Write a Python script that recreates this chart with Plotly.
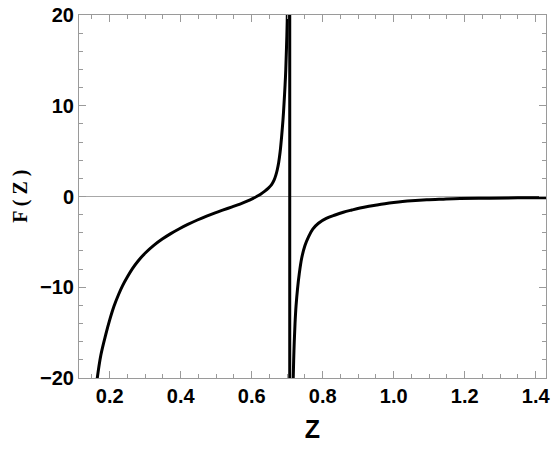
import plotly.graph_objects as go

# Left branch (Z < pole)
z_left = [0.162, 0.165, 0.175, 0.189, 0.200, 0.212, 0.225, 0.236, 0.250, 0.264,
          0.280, 0.301, 0.325, 0.348, 0.372, 0.395, 0.420, 0.447, 0.473, 0.497,
          0.520, 0.545, 0.567, 0.587, 0.604, 0.615, 0.625, 0.637, 0.647, 0.656,
          0.663, 0.668, 0.672, 0.676, 0.680, 0.684, 0.688, 0.691, 0.694, 0.696,
          0.698, 0.700, 0.7005]
f_left = [-21.0, -20.0, -17.5, -15.2, -13.6, -12.1, -10.8, -9.85, -8.85, -7.95,
          -7.1, -6.2, -5.36, -4.69, -4.09, -3.58, -3.08, -2.59, -2.16, -1.80,
          -1.48, -1.14, -0.83, -0.52, -0.21, 0.02, 0.26, 0.60, 0.93, 1.31,
          1.8, 2.35, 2.95, 3.75, 4.9, 6.5, 8.4, 10.2, 12.3, 14.0,
          16.4, 19.3, 21.0]

# Jump across the pole (Z ~ 0.707)
z_pole = [0.7071, 0.7071]
f_pole = [20.0, -20.0]

# Right branch (Z > pole)
z_right = [0.7165, 0.717, 0.719, 0.722, 0.725, 0.729, 0.734, 0.741, 0.750, 0.760,
           0.772, 0.788, 0.810, 0.835, 0.858, 0.882, 0.905, 0.930, 0.953, 0.975,
           1.000, 1.025, 1.050, 1.093, 1.140, 1.187, 1.270, 1.350, 1.430]
f_right = [-21.0, -20.0, -17.0, -14.0, -12.0, -10.2, -8.5, -6.75, -5.4, -4.45,
           -3.6, -2.95, -2.42, -2.04, -1.74, -1.49, -1.27, -1.08, -0.93, -0.80,
           -0.67, -0.56, -0.47, -0.36, -0.29, -0.23, -0.18, -0.15, -0.13]

x_ticks = [0.2, 0.4, 0.6, 0.8, 1.0, 1.2, 1.4]
y_ticks = [-20, -10, 0, 10, 20]
y_tick_text = ["\u221220", "\u221210", "0", "10", "20"]

line_style = dict(color="black", width=3)

fig = go.Figure()
fig.add_trace(go.Scatter(x=z_left, y=f_left, mode="lines",
                         line=dict(**line_style, shape="spline", smoothing=1.0),
                         showlegend=False))
fig.add_trace(go.Scatter(x=z_pole, y=f_pole, mode="lines",
                         line=line_style, showlegend=False))
fig.add_trace(go.Scatter(x=z_right, y=f_right, mode="lines",
                         line=dict(**line_style, shape="spline", smoothing=1.0),
                         showlegend=False))

sans = "Liberation Sans, Arial, sans-serif"
tick_font = dict(family=sans, size=20, color="black")
axis_common = dict(
    showgrid=False, showline=True, linecolor="#9a9a9a", linewidth=1, mirror="allticks",
    ticks="inside", ticklen=7, tickcolor="#9a9a9a", tickwidth=1,
    tickfont=tick_font, zeroline=False, automargin=False,
)

fig.update_xaxes(
    range=[0.1135, 1.429], tickvals=x_ticks, ticktext=[f"<b>{v:.1f}</b>" for v in x_ticks],
    minor=dict(ticks="inside", ticklen=4, tickcolor="#9a9a9a", dtick=0.05, showgrid=False),
    title=dict(text="<b>Z</b>", font=dict(family=sans, size=25, color="black"), standoff=14),
    **axis_common,
)
fig.update_yaxes(
    range=[-20, 20], tickvals=y_ticks, ticktext=[f"<b>{t}</b>" for t in y_tick_text],
    minor=dict(ticks="inside", ticklen=4, tickcolor="#9a9a9a", dtick=2, showgrid=False),
    **axis_common,
)

fig.add_annotation(text="<b>F ( Z )</b>", xref="paper", yref="paper",
                   x=-0.126, y=0.5, xanchor="center", yanchor="middle",
                   textangle=-90, showarrow=False,
                   font=dict(family="Liberation Serif, Times New Roman, serif", size=20, color="black"))

fig.add_shape(type="line", xref="paper", x0=0, x1=1, yref="y", y0=0, y1=0,
              line=dict(color="#a8a8a8", width=1), layer="below")

fig.update_layout(
    width=560, height=451,
    margin=dict(l=79, r=14, t=15, b=73),
    paper_bgcolor="white", plot_bgcolor="white",
)

fig.write_html("out.html")
